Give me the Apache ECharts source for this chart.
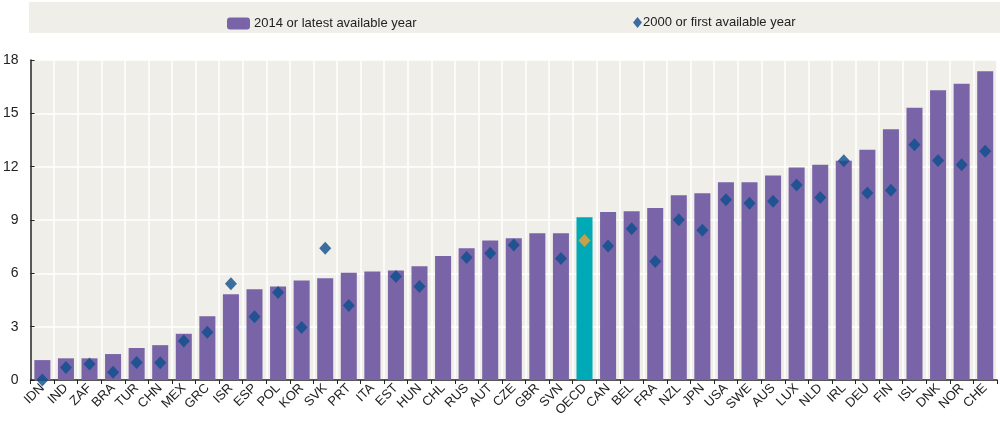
<!DOCTYPE html>
<html><head><meta charset="utf-8">
<script src="https://cdn.jsdelivr.net/npm/echarts@6/dist/echarts.min.js"></script>
<style>html,body{margin:0;padding:0;background:#fff}#c{width:1000px;height:422px}</style>
</head><body><div id="c"></div>
<script>
const categories = ["IDN","IND","ZAF","BRA","TUR","CHN","MEX","GRC","ISR","ESP","POL","KOR","SVK","PRT","ITA","EST","HUN","CHL","RUS","AUT","CZE","GBR","SVN","OECD","CAN","BEL","FRA","NZL","JPN","USA","SWE","AUS","LUX","NLD","IRL","DEU","FIN","ISL","DNK","NOR","CHE"];
const latest = [1.12,1.22,1.22,1.46,1.80,1.96,2.60,3.59,4.83,5.11,5.26,5.60,5.73,6.03,6.10,6.16,6.40,6.98,7.41,7.84,7.97,8.25,8.25,9.15,9.45,9.49,9.67,10.39,10.50,11.12,11.13,11.51,11.96,12.11,12.33,12.95,14.11,15.31,16.30,16.67,17.37];
const first = [0.0,0.71,0.90,0.43,0.99,0.97,2.19,2.69,5.41,3.56,4.92,2.96,7.41,4.19,null,5.82,5.26,null,6.89,7.13,7.60,null,6.83,7.84,7.54,8.51,6.66,9.02,8.42,10.14,9.94,10.05,10.97,10.27,12.33,10.52,10.68,13.23,12.35,12.11,12.87];
const seriesNames = ["2014 or latest available year","2000 or first available year"];
const yTicks = [0,3,6,9,12,15,18];

const PURPLE = '#7a64a8', TEAL = '#00a9b6', BLUE = '#0b4e8c', ORANGE = '#f5a033';
const FONT = '"Liberation Sans Narrow","Arial Narrow","Liberation Sans",Arial,sans-serif';
const chart = echarts.init(document.getElementById('c'), null, {renderer:'canvas'});
chart.setOption({
  animation:false,
  backgroundColor:'#ffffff',
  textStyle:{fontFamily:FONT},
  graphic:[{type:'rect', left:29, top:2, shape:{width:971, height:31}, style:{fill:'#f0eee9'}, z:-10}],
  legend:[
    {data:[seriesNames[0]], left:222, top:12, itemWidth:23, itemHeight:12, itemGap:0,
     textStyle:{fontFamily:FONT, fontSize:13, color:'#222', padding:[0,0,0,-1]}},
    {data:[{name:seriesNames[1], icon:'diamond'}], left:628, top:11, itemWidth:9, itemHeight:11,
     textStyle:{fontFamily:FONT, fontSize:13, color:'#222', padding:[0,0,0,-4]}}
  ],
  grid:{left:29, right:3, top:60, bottom:42, show:true, backgroundColor:'#f0eee9', borderWidth:0},
  xAxis:{type:'category', data:categories, boundaryGap:true,
    axisLine:{lineStyle:{color:'#222', width:1.5}},
    axisTick:{show:true, length:4, lineStyle:{color:'#222'}},
    splitLine:{show:true, lineStyle:{color:'#ffffff', width:1.5}},
    axisLabel:{rotate:45, interval:0, fontFamily:FONT, fontSize:13, color:'#222', margin:6}},
  yAxis:{type:'value', min:yTicks[0], max:yTicks[yTicks.length-1], interval:3,
    axisLine:{show:true, lineStyle:{color:'#222', width:1.5}},
    axisTick:{show:true, inside:true, length:4, lineStyle:{color:'#222'}},
    splitLine:{show:true, lineStyle:{color:'#ffffff', width:1.5}},
    axisLabel:{fontFamily:FONT, fontSize:14, color:'#222', margin:12}},
  series:[
    {name:seriesNames[0], type:'bar', barWidth:'68%', itemStyle:{color:PURPLE},
     data:latest.map((v,i)=>categories[i]==='OECD'?{value:v,itemStyle:{color:TEAL}}:v)},
    {name:seriesNames[1], type:'scatter', symbol:'diamond', symbolSize:[12,13], itemStyle:{color:BLUE}, z:5,
     data:first.map((v,i)=>categories[i]==='OECD'?{value:v,itemStyle:{color:ORANGE}}:v)}
  ]
});
</script></body></html>
